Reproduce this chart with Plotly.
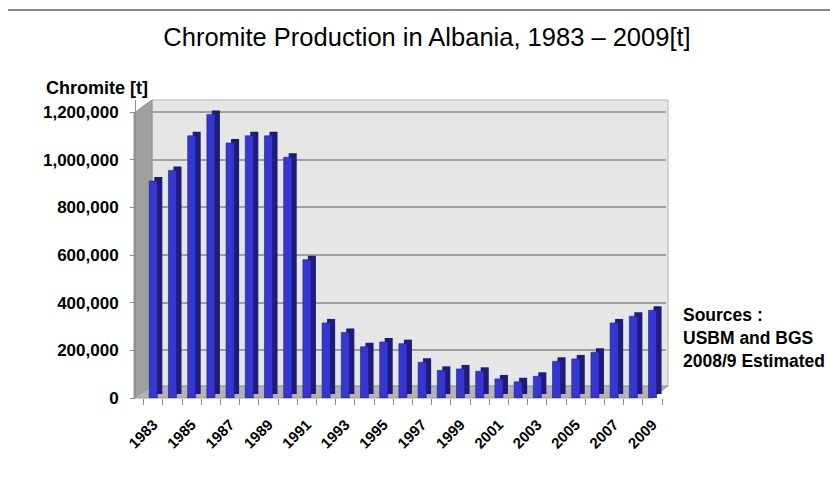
import plotly.graph_objects as go

years = list(range(1983, 2010))
chromite_t = [910000, 955000, 1100000, 1190000, 1070000, 1100000, 1100000, 1010000,
              580000, 315000, 275000, 215000, 235000, 228000, 150000, 116000,
              122000, 112000, 80000, 68000, 91000, 154000, 164000, 192000,
              315000, 343000, 368000]
y_ticks = [0, 200000, 400000, 600000, 800000, 1000000, 1200000]
y_tick_text = ["0", "200,000", "400,000", "600,000", "800,000", "1,000,000", "1,200,000"]
x_tick_years = years[::2]
x_tick_text = [str(y) for y in x_tick_years]

FONT = "Liberation Sans, Arial, sans-serif"
W, H = 830, 488
L, R, T, B = 136, 164, 100, 90
PW, PH = W - L - R, H - T - B
Y_TOP = 1200000 * PH / 286
DEPTH_DY = 4 * Y_TOP / PH

def px(x):
    return (x - L) / PW

def py(y):
    return (H - B - y) / PH

fig = go.Figure()
# depth (side/top) of each column
fig.add_trace(go.Bar(x=years, y=chromite_t, base=DEPTH_DY, width=0.42, offset=-0.21 + 0.26,
                     marker=dict(color="#1d1d78", line=dict(width=0)), hoverinfo="skip",
                     showlegend=False))
# front face
fig.add_trace(go.Bar(x=years, y=chromite_t, width=0.42, offset=-0.21,
                     marker=dict(color="#3636d2", line=dict(width=0.6, color="#20208a")),
                     showlegend=False))

shapes = [
    # back wall
    dict(type="rect", xref="paper", yref="paper", x0=px(152), x1=px(668), y0=py(386), y1=py(100),
         fillcolor="#e6e6e6", line=dict(color="#b0b0b0", width=1), layer="below"),
    # left wall
    dict(type="path", xref="paper", yref="paper",
         path=f"M {px(134)},{py(113)} L {px(152)},{py(100)} L {px(152)},{py(386)} L {px(134)},{py(398)} Z",
         fillcolor="#a0a0a0", line=dict(color="#8c8c8c", width=1), layer="between"),
    # floor
    dict(type="path", xref="paper", yref="paper",
         path=f"M {px(134)},{py(398)} L {px(652)},{py(398)} L {px(668)},{py(386)} L {px(152)},{py(386)} Z",
         fillcolor="#b4b4b4", line=dict(color="#9a9a9a", width=1), layer="between"),
    # top rule
    dict(type="line", xref="paper", yref="paper", x0=px(8), x1=px(830), y0=py(10), y1=py(10),
         line=dict(color="#8a8a8a", width=2)),
]

fig.update_layout(
    width=W, height=H,
    margin=dict(l=L, r=R, t=T, b=B),
    paper_bgcolor="white", plot_bgcolor="rgba(0,0,0,0)",
    barmode="overlay",
    font=dict(family=FONT, color="black"),
    title=dict(text="Chromite Production in Albania, 1983 – 2009[t]", x=427 / W, xanchor="center",
               y=1 - 37 / H, yanchor="middle", font=dict(size=25.5, family=FONT, color="black")),
    shapes=shapes,
    xaxis=dict(range=[1982.1, 2009.7], tickvals=x_tick_years, ticktext=x_tick_text,
               tickangle=-45, ticks="", showgrid=False, zeroline=False, showline=False,
               ticklabelstandoff=14,
               tickfont=dict(size=15, family=FONT, color="black", weight="bold"),
               minor=dict(ticks="outside", tickvals=[y - 0.5 for y in years] + [years[-1] + 0.5],
                          ticklen=6, tickcolor="#8c8c8c", showgrid=False)),
    yaxis=dict(range=[0, Y_TOP], tickvals=y_ticks, ticktext=y_tick_text,
               showgrid=True, gridcolor="#a0a0a0", gridwidth=1.5, zeroline=False,
               showline=True, linecolor="#8c8c8c", ticks="outside", ticklen=5, tickcolor="#8c8c8c",
               ticklabelstandoff=8,
               tickfont=dict(size=17, family=FONT, color="black", weight="bold")),
    annotations=[
        dict(text="<b>Chromite [t]</b>", xref="paper", yref="paper", x=px(44), y=py(88),
             xanchor="left", yanchor="middle", showarrow=False, font=dict(size=18, family=FONT)),
        dict(text="<b>Sources :<br>USBM and BGS<br>2008/9 Estimated</b>", xref="paper", yref="paper",
             x=px(681), y=py(338), xanchor="left", yanchor="middle", align="left", showarrow=False,
             font=dict(size=17.5, family=FONT)),
    ],
)

fig.write_html("out.html", config={"displayModeBar": False},
               post_script="document.body.style.margin='0';document.body.style.overflow='hidden';")
